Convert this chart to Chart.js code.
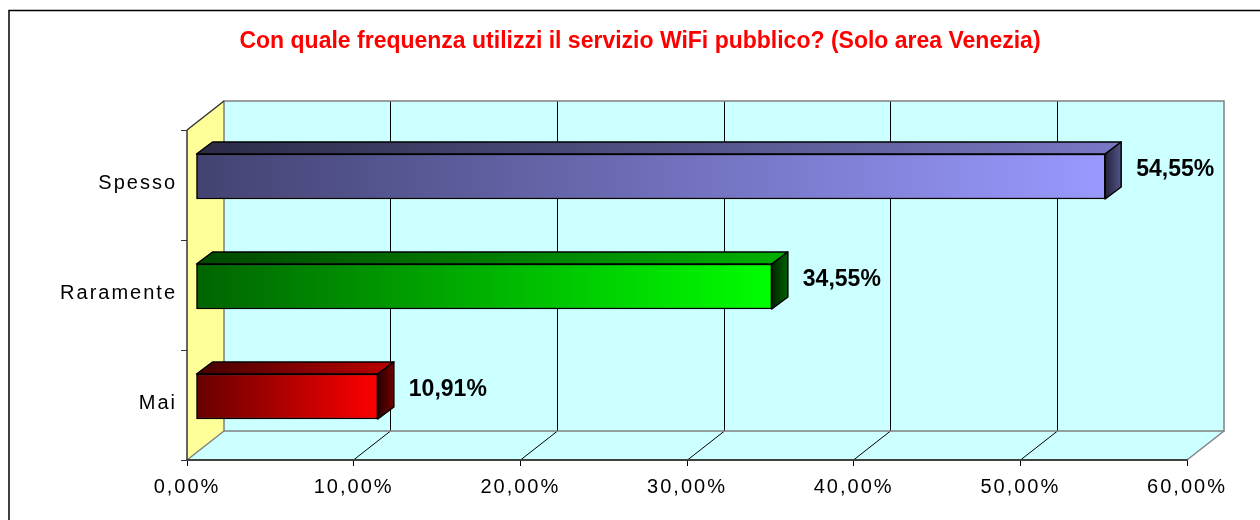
<html>
<head>
<title>WiFi pubblico - Venezia</title>
<script src="https://cdn.jsdelivr.net/npm/chart.js"></script>
<style>
body { margin: 0; background: #fff; }
#wrap { width: 1260px; height: 520px; position: relative; }
</style>
</head>
<body>
<div id="wrap"><canvas id="chart"></canvas></div>
<script>
const titleText = 'Con quale frequenza utilizzi il servizio WiFi pubblico? (Solo area Venezia)';
const categories = ['Spesso', 'Raramente', 'Mai'];
const values = [54.55, 34.55, 10.91];
const tickValues = [0, 10, 20, 30, 40, 50, 60];

// colours per bar, [dark end, light end]
const frontColors = [['#434372', '#9999FF'], ['#006400', '#00FF00'], ['#660000', '#FF0000']];
const topColors = [['#2B2B47', '#7777C4'], ['#004800', '#00AE00'], ['#460000', '#B40000']];
const sideColors = [['#22223A', '#54548A'], ['#002400', '#006200'], ['#2C0000', '#700000']];

const FONT = '"Liberation Sans", Arial, sans-serif';
const DEPTH = { x: 37, y: -29 };       // back wall offset from the front plane
const BAR_SHIFT = { x: 9, y: -8.5 };   // bars sit a little inside the box
const BAR_DEPTH = { x: 16, y: -12 };

function pct(v) {
  return Number(v).toFixed(2).replace('.', ',') + '%';
}

function poly(c, pts) {
  c.beginPath();
  c.moveTo(pts[0][0], pts[0][1]);
  for (let i = 1; i < pts.length; i++) c.lineTo(pts[i][0], pts[i][1]);
  c.closePath();
}

function line(c, x1, y1, x2, y2) {
  c.beginPath();
  c.moveTo(x1, y1);
  c.lineTo(x2, y2);
  c.stroke();
}

function hGradient(c, x1, x2, cols) {
  const g = c.createLinearGradient(x1, 0, x2, 0);
  g.addColorStop(0, cols[0]);
  g.addColorStop(1, cols[1]);
  return g;
}

function frontFill(context) {
  const chart = context.chart;
  const i = context.dataIndex;
  if (!chart.chartArea || i === undefined) return frontColors[i || 0][1];
  const xs = chart.scales.x;
  return hGradient(chart.ctx, xs.getPixelForValue(0), xs.getPixelForValue(values[i]), frontColors[i]);
}

const box3d = {
  id: 'box3d',
  beforeDraw(chart) {
    const c = chart.ctx, a = chart.chartArea, xs = chart.scales.x, ys = chart.scales.y;
    const L = a.left, R = a.right, T = a.top, B = a.bottom, dx = DEPTH.x, dy = DEPTH.y;
    c.save();

    // outer frame (only left and top edges are inside the picture)
    c.strokeStyle = '#000';
    c.lineWidth = 1.5;
    c.beginPath();
    c.moveTo(9, 530);
    c.lineTo(9, 10.5);
    c.lineTo(1270, 10.5);
    c.stroke();

    // title
    c.fillStyle = '#FF0000';
    c.font = 'bold 23px ' + FONT;
    c.textAlign = 'center';
    c.textBaseline = 'middle';
    c.fillText(titleText, 640, 42);

    // walls and floor
    c.fillStyle = '#CCFFFF';
    c.fillRect(L + dx, T + dy, R - L, B - T);
    c.fillStyle = '#FFFF99';
    poly(c, [[L, T], [L + dx, T + dy], [L + dx, B + dy], [L, B]]);
    c.fill();
    c.fillStyle = '#CCFFFF';
    poly(c, [[L, B], [L + dx, B + dy], [R + dx, B + dy], [R, B]]);
    c.fill();

    // grid lines on back wall and floor
    c.strokeStyle = '#000';
    c.lineWidth = 1;
    tickValues.slice(1, -1).forEach(v => {
      const px = Math.floor(xs.getPixelForValue(v)) + 0.5;
      line(c, px + dx, T + dy, px + dx, B + dy);
      line(c, px, B, px + dx, B + dy);
    });

    // wall edges
    c.strokeStyle = '#808080';
    c.lineWidth = 1.5;
    c.strokeRect(L + dx, T + dy, R - L, B - T);
    line(c, L, B, L + dx, B + dy);
    line(c, R, B, R + dx, B + dy);
    c.strokeStyle = '#333';
    line(c, L, T, L + dx, T + dy);

    // left axis with category dividers
    c.strokeStyle = '#333';
    c.lineWidth = 1.5;
    line(c, L, T, L, B);
    c.lineWidth = 1;
    for (let i = 0; i <= categories.length; i++) {
      const py = Math.round(T + i * (B - T) / categories.length) + 0.5;
      line(c, L - 6, py, L, py);
    }

    // category labels
    c.fillStyle = '#000';
    c.font = '20px ' + FONT;
    c.letterSpacing = '2px';
    c.textAlign = 'right';
    c.textBaseline = 'middle';
    categories.forEach((name, i) => {
      c.fillText(name, 177, ys.getPixelForValue(i) - 1.5);
    });
    c.restore();
    // the x axis tick labels are drawn next, with the same wide spacing
    c.letterSpacing = '2px';
  },
  beforeDatasetsDraw(chart) {
    const c = chart.ctx;
    c.letterSpacing = '0px';
    c.save();
    c.translate(BAR_SHIFT.x, BAR_SHIFT.y);
    const meta = chart.getDatasetMeta(0);
    meta.data.forEach((el, i) => {
      const p = el.getProps(['x', 'y', 'base', 'height'], true);
      const top = p.y - p.height / 2, bot = p.y + p.height / 2;
      const bx = BAR_DEPTH.x, by = BAR_DEPTH.y;
      c.lineWidth = 1.5;
      c.strokeStyle = '#000';
      c.lineJoin = 'round';
      poly(c, [[p.base, top], [p.base + bx, top + by], [p.x + bx, top + by], [p.x, top]]);
      c.fillStyle = hGradient(c, p.base, p.x, topColors[i]);
      c.fill();
      c.stroke();
      poly(c, [[p.x, top], [p.x + bx, top + by], [p.x + bx, bot + by], [p.x, bot]]);
      c.fillStyle = hGradient(c, p.x, p.x + bx, sideColors[i]);
      c.fill();
      c.stroke();
    });
  },
  afterDatasetsDraw(chart) {
    const c = chart.ctx;
    c.restore();
    c.save();
    c.fillStyle = '#000';
    c.font = 'bold 23px ' + FONT;
    c.textAlign = 'center';
    c.textBaseline = 'middle';
    chart.getDatasetMeta(0).data.forEach((el, i) => {
      c.fillText(pct(values[i]), el.x + BAR_SHIFT.x + 70, el.y + BAR_SHIFT.y - 7);
    });
    c.restore();
  }
};

new Chart(document.getElementById('chart'), {
  type: 'bar',
  data: {
    labels: categories,
    datasets: [{
      data: values,
      backgroundColor: frontFill,
      borderColor: '#000',
      borderWidth: 1.5,
      borderSkipped: false,
      barThickness: 45,
      clip: false
    }]
  },
  options: {
    indexAxis: 'y',
    responsive: true,
    maintainAspectRatio: false,
    animation: false,
    events: [],
    layout: { padding: { left: 187, right: 73, top: 130, bottom: 0 } },
    plugins: {
      legend: { display: false },
      tooltip: { enabled: false }
    },
    scales: {
      y: { display: false },
      x: {
        min: 0,
        max: 60,
        afterBuildTicks: s => { s.ticks = tickValues.map(v => ({ value: v })); },
        afterFit: s => { s.height = 60; },
        grid: { drawOnChartArea: false, drawTicks: true, tickLength: 6, color: '#000', lineWidth: 1 },
        border: { display: true, color: '#404040', width: 2 },
        ticks: {
          callback: v => pct(v),
          color: '#000',
          font: { family: FONT, size: 20 },
          maxRotation: 0,
          autoSkip: false,
          padding: 9
        }
      }
    }
  },
  plugins: [box3d]
});
</script>
</body>
</html>
